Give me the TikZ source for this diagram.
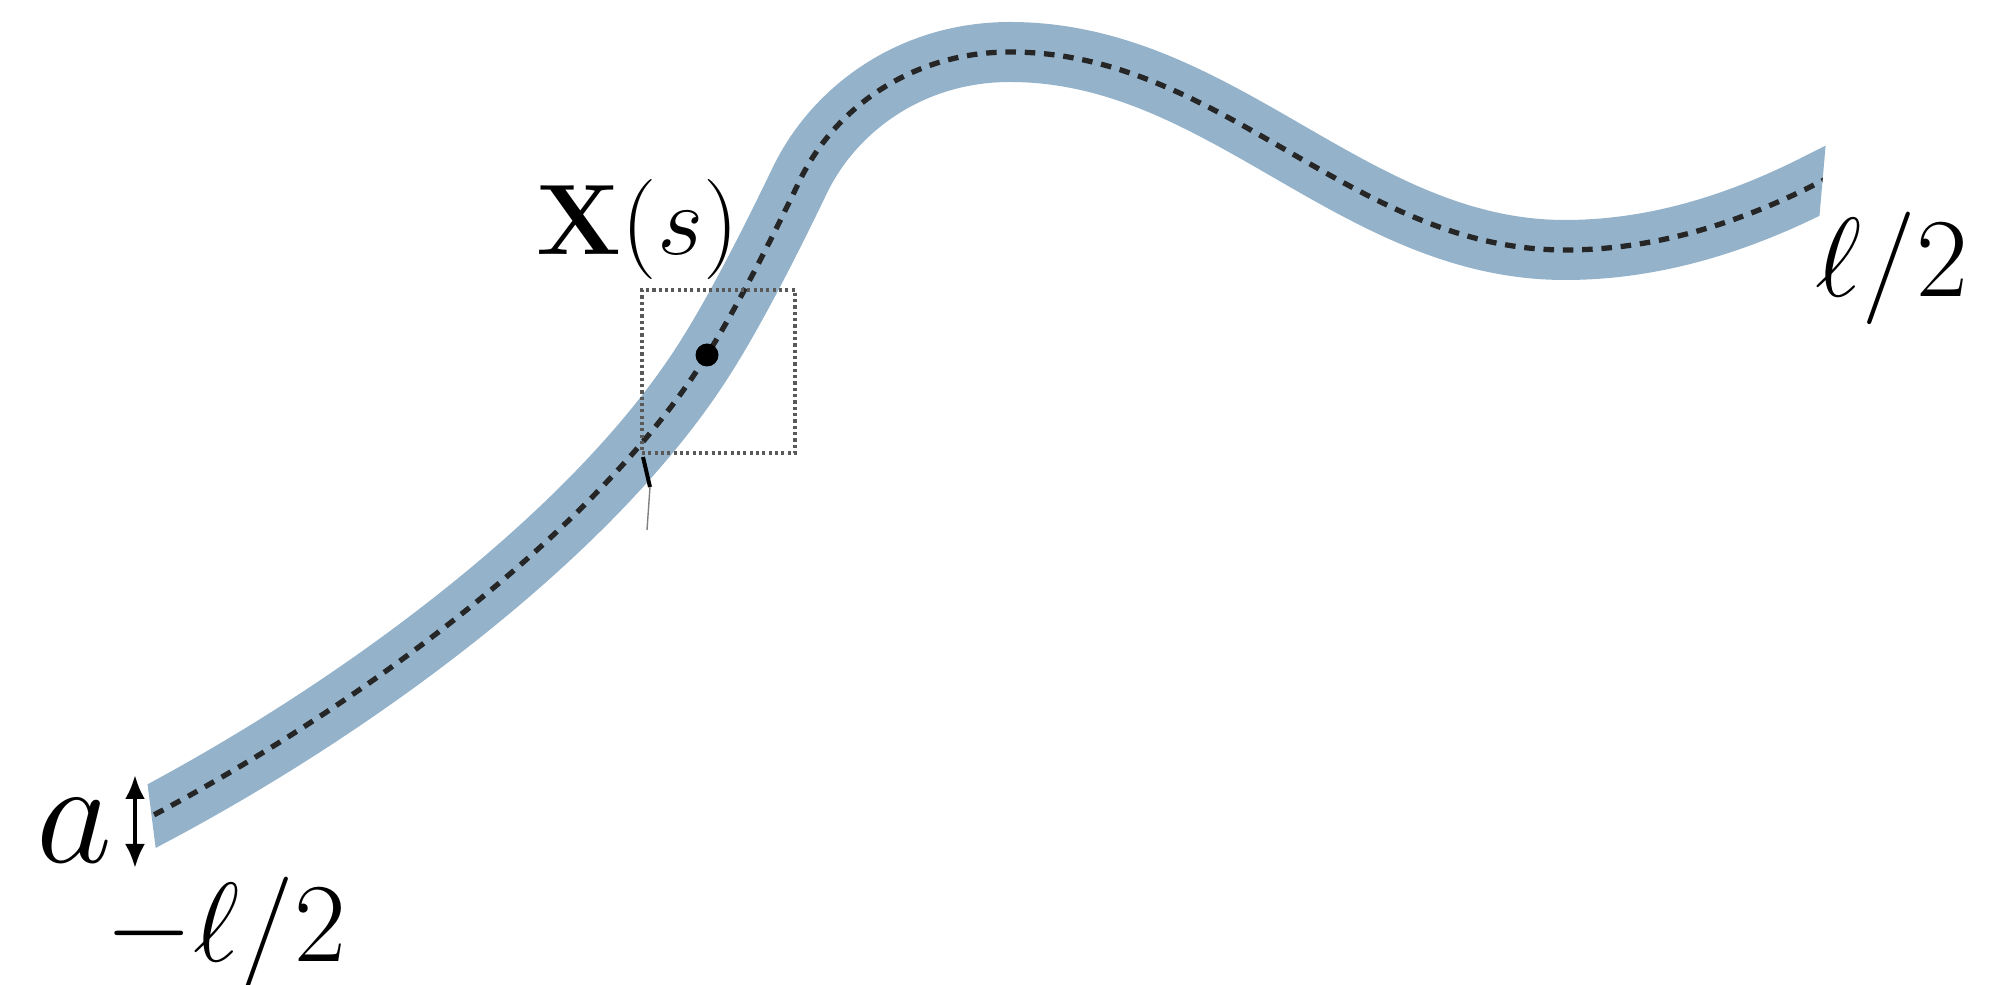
\documentclass[tikz,border=0pt]{standalone}
\usepackage{fix-cm}
\usepackage{amsmath}
\usetikzlibrary{arrows.meta, positioning}
\definecolor{ribbonblue}{RGB}{148,179,203}

\begin{document}
\begin{tikzpicture}[
    ribbon/.style={line width=0.6cm, ribbonblue},
    centre/.style={line width=1.5pt, black!85, dash pattern=on 3pt off 2.5pt},
    window/.style={
        draw=black!65,
        line width=0.9pt,
        dash pattern=on 0.9pt off 0.9pt,
        minimum width=1.53cm,
        minimum height=1.63cm,
        inner sep=0pt
    },
    dot/.style={circle, fill=black, minimum size=0.23cm, inner sep=0pt},
    lbl/.style={inner sep=0pt, anchor=base},
    arrow/.style={{Latex[length=2.4mm,width=2mm]}-{Latex[length=2.4mm,width=2mm]}, line width=1.1pt}
]
\useasboundingbox (0,0) rectangle (20.03,-9.85);

% Filament and its centreline
\begin{scope}
\clip (1.368,-7.0) -- (1.623,-9.0) -- (17.0,-9.0) -- (18.156,-2.6) -- (18.296,-1.0) -- (18.296,0) -- (1.368,0) -- cycle;
\foreach \sty in {ribbon, centre}
    \draw[\sty] (1.20,-8.33) -- (1.50,-8.17)
        .. controls (3.71,-7.00) and (6.01,-5.25) .. (7.07,-3.55)
        .. controls (7.39,-3.04) and (7.74,-2.34) .. (8.00,-1.80)
        .. controls (8.35,-1.08) and (9.12,-0.52) .. (10.10,-0.52)
        .. controls (12.22,-0.52) and (13.53,-2.50) .. (15.65,-2.50)
        .. controls (16.55,-2.50) and (17.40,-2.23) .. (18.20,-1.82)
        -- (18.42,-1.71);
\end{scope}

% Material point and its window
\node[window] (win) at (7.185,-3.715) {};
\node[dot] (xs) at (7.07,-3.55) {};
\node[lbl, font=\fontsize{28.5}{33}\selectfont] (xlabel) at (6.38,-2.55) {$\mathbf{X}(s)$};

% End labels
\node[lbl, font=\fontsize{32}{37}\selectfont] (lo) at (2.26,-9.62) {$-\ell/2$};
\node[lbl, font=\fontsize{32}{37}\selectfont] (hi) at (18.92,-2.97) {$\ell/2$};

% Thickness
\node[lbl, font=\fontsize{42}{48}\selectfont] (alabel) at (0.74,-8.63) {$a$};
\coordinate (atop) at (1.35,-7.75);
\coordinate (abot) at (1.35,-8.68);
\draw[arrow] (atop) -- (abot);

% Small tick below the window
\coordinate (tick1) at (6.43,-4.57);
\coordinate (tick2) at (6.50,-4.87);
\coordinate (tick3) at (6.47,-5.30);
\draw[line width=0.04cm] (tick1) -- (tick2);
\draw[line width=0.4pt, black!50] (tick2) -- (tick3);

\end{tikzpicture}
\end{document}
